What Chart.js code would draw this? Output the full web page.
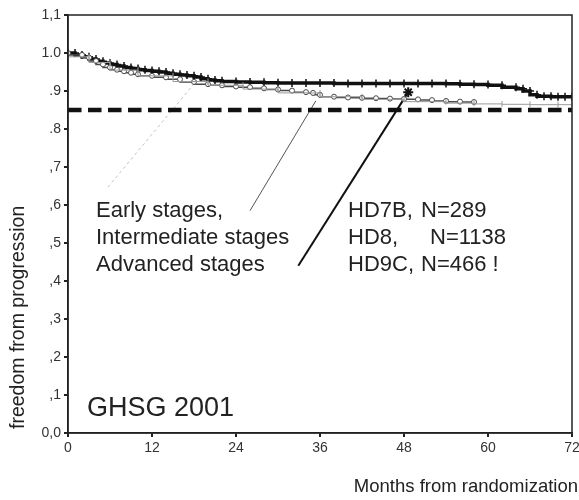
<!DOCTYPE html>
<html>
<head>
<meta charset="UTF-8">
<title>freedom from progression</title>
<style>
	body {margin:0; background:#fff;}
	#wrap {width:579px; height:500px;}
</style>
</head>
<body>
<div id="wrap"><canvas id="ffpChart" width="579" height="500"></canvas></div>
<script src="https://cdn.jsdelivr.net/npm/chart.js@4.4.0/dist/chart.umd.min.js"></script>
<script>
	// values (months / freedom from progression)
	const xTicks = [0, 12, 24, 36, 48, 60, 72];
	const yTickLabels = ['0,0', ',1', ',2', ',3', ',4', ',5', ',6', ',7', '.8', '.9', '1.0', '1,1'];

	// advanced stages (thick black curve with + marks)
	const advMonths = [0, 1, 2, 3, 4, 5, 6, 7, 8, 9, 10, 11, 12, 13, 14, 15, 16, 17, 18, 19, 20, 21, 22, 24, 26, 28, 30, 32, 34, 36, 38, 40, 42, 44, 46, 48, 50, 52, 54, 56, 58, 60, 62, 64, 65, 66, 67, 68, 69, 70, 71, 72];
	const advValues = [1.0, 1.0, 0.995, 0.99, 0.984, 0.978, 0.974, 0.97, 0.966, 0.962, 0.959, 0.956, 0.954, 0.952, 0.95, 0.947, 0.944, 0.942, 0.94, 0.937, 0.932, 0.929, 0.927, 0.925, 0.924, 0.923, 0.922, 0.921, 0.921, 0.921, 0.921, 0.92, 0.92, 0.92, 0.92, 0.92, 0.92, 0.92, 0.92, 0.919, 0.918, 0.917, 0.915, 0.91, 0.906, 0.9, 0.89, 0.886, 0.886, 0.885, 0.885, 0.885];

	// intermediate stages (grey curve with round marks)
	const intMonths = [0, 2, 3, 4, 5, 6, 7, 8, 9, 10, 12, 14, 16, 18, 20, 22, 24, 26, 28, 30, 32, 34, 35, 36, 38, 40, 42, 44, 46, 48, 50, 52, 54, 56, 58];
	const intValues = [1.0, 0.995, 0.988, 0.979, 0.97, 0.962, 0.956, 0.952, 0.948, 0.944, 0.94, 0.936, 0.931, 0.924, 0.918, 0.915, 0.912, 0.91, 0.907, 0.904, 0.901, 0.897, 0.895, 0.89, 0.885, 0.883, 0.882, 0.881, 0.88, 0.879, 0.878, 0.876, 0.874, 0.872, 0.871];

	// early stages (light grey curve with tick marks)
	const earlyMonths = [0, 3, 6, 10, 15, 20, 25, 30, 36, 42, 48, 54, 58, 62, 66, 70, 72];
	const earlyValues = [1.0, 0.99, 0.975, 0.955, 0.94, 0.925, 0.915, 0.905, 0.895, 0.885, 0.878, 0.872, 0.868, 0.866, 0.865, 0.864, 0.864];

	// reference line and pointer lines (data units)
	const refLevel = 0.85;
	const pointerFaint = [[5.7, 0.647], [18.1, 0.921]];
	const pointerEarly = [[26.0, 0.585], [35.4, 0.874]];
	const pointerAdvanced = [[32.9, 0.44], [48.6, 0.897]];

	function pairs(xs, ys) {
		return xs.map(function(x, i) { return {x: x, y: ys[i]}; });
	}

	const FONT = '"Liberation Sans", Arial, sans-serif';
	const INK = '#222';

	// white page, box around the plot, free texts
	const paperPlugin = {
		id: 'paper',
		beforeDraw: function(chart) {
			const c = chart.ctx;
			c.save();
			c.fillStyle = '#fff';
			c.fillRect(0, 0, chart.width, chart.height);
			c.restore();
		},
		afterDraw: function(chart) {
			const c = chart.ctx;
			const a = chart.chartArea;
			c.save();
			c.strokeStyle = INK;
			c.lineWidth = 1.5;
			c.strokeRect(a.left, a.top, a.right - a.left, a.bottom - a.top);

			c.fillStyle = INK;
			c.textBaseline = 'middle';
			c.textAlign = 'left';
			c.font = '22px ' + FONT;
			c.fillText('Early stages,', 96, 211);
			c.fillText('Intermediate stages', 96, 238);
			c.fillText('Advanced stages', 96, 265);
			c.fillText('HD7B,', 348, 211);
			c.fillText('N=289', 421, 211);
			c.fillText('HD8,', 348, 238);
			c.fillText('N=1138', 430, 238);
			c.fillText('HD9C,', 348, 265);
			c.fillText('N=466 !', 421, 265);

			c.font = '27px ' + FONT;
			c.fillText('GHSG 2001', 87, 409);

			c.font = '18.5px ' + FONT;
			c.textAlign = 'right';
			c.fillText('Months from randomization', 578, 487);

			// y title, rotated
			c.translate(19, 429);
			c.rotate(-Math.PI / 2);
			c.textAlign = 'left';
			c.font = '19.5px ' + FONT;
			c.fillText('freedom from progression', 0, 0);
			c.restore();
		}
	};

	const ctx = document.getElementById('ffpChart');
	const chart = new Chart(ctx, {
		type: 'line',
		data: {
			datasets: [
				{	// dashed reference line
					data: pairs([0, 72], [refLevel, refLevel]),
					borderColor: '#111',
					borderWidth: 4.5,
					borderDash: [13.5, 6.5],
					pointRadius: 0
				},
				{
					label: 'Early stages',
					data: pairs(earlyMonths, earlyValues),
					stepped: 'after',
					borderColor: '#9a9a9a',
					borderWidth: 1,
					pointStyle: 'line',
					rotation: 90,
					pointRadius: 3,
					pointBorderColor: '#9a9a9a',
					pointBorderWidth: 1
				},
				{
					label: 'Intermediate stages',
					data: pairs(intMonths, intValues),
					stepped: 'after',
					borderColor: '#4a4a4a',
					borderWidth: 1.5,
					pointStyle: 'circle',
					pointRadius: 2.5,
					pointBackgroundColor: '#fff',
					pointBorderColor: '#4a4a4a',
					pointBorderWidth: 1
				},
				{
					label: 'Advanced stages',
					data: pairs(advMonths, advValues),
					stepped: 'after',
					borderColor: '#111',
					borderWidth: 3.5,
					pointStyle: 'cross',
					pointRadius: 4,
					pointBorderColor: '#111',
					pointBorderWidth: 1.5
				},
				{	// faint pointer
					data: pointerFaint.map(function(p) { return {x: p[0], y: p[1]}; }),
					borderColor: '#c4c4c4',
					borderWidth: 1,
					borderDash: [3, 3],
					pointRadius: 0
				},
				{	// pointer from "Early stages,"
					data: pointerEarly.map(function(p) { return {x: p[0], y: p[1]}; }),
					borderColor: '#555',
					borderWidth: 1,
					pointRadius: 0
				},
				{	// pointer from "Advanced stages"
					data: pointerAdvanced.map(function(p) { return {x: p[0], y: p[1]}; }),
					borderColor: '#111',
					borderWidth: 2,
					pointStyle: 'star',
					pointRadius: [0, 5],
					pointBorderColor: '#111',
					pointBorderWidth: 2
				}
			]
		},
		options: {
			responsive: false,
			animation: false,
			layout: {padding: {top: 15, right: 0, left: 0, bottom: 0}},
			plugins: {
				legend: {display: false},
				tooltip: {enabled: false}
			},
			scales: {
				x: {
					type: 'linear',
					min: 0,
					max: 72,
					afterFit: function(s) { s.height = 67; s.paddingRight = 7; },
					afterBuildTicks: function(s) { s.ticks = xTicks.map(function(v) { return {value: v}; }); },
					ticks: {
						color: '#333',
						font: {family: FONT, size: 14},
						padding: 3,
						maxRotation: 0,
						callback: function(v) { return String(v); }
					},
					grid: {drawOnChartArea: false, tickLength: 4, color: INK, lineWidth: 2},
					border: {color: INK, width: 1.5}
				},
				y: {
					min: 0,
					max: 1.1,
					afterFit: function(s) { s.width = 68; },
					afterBuildTicks: function(s) { s.ticks = yTickLabels.map(function(t, i) { return {value: i / 10}; }); },
					ticks: {
						color: '#333',
						font: {family: FONT, size: 14},
						padding: 3,
						callback: function(v, i) { return yTickLabels[i]; }
					},
					grid: {drawOnChartArea: false, tickLength: 4, color: INK, lineWidth: 2},
					border: {color: INK, width: 1.5}
				}
			}
		},
		plugins: [paperPlugin]
	});
</script>
</body>
</html>
